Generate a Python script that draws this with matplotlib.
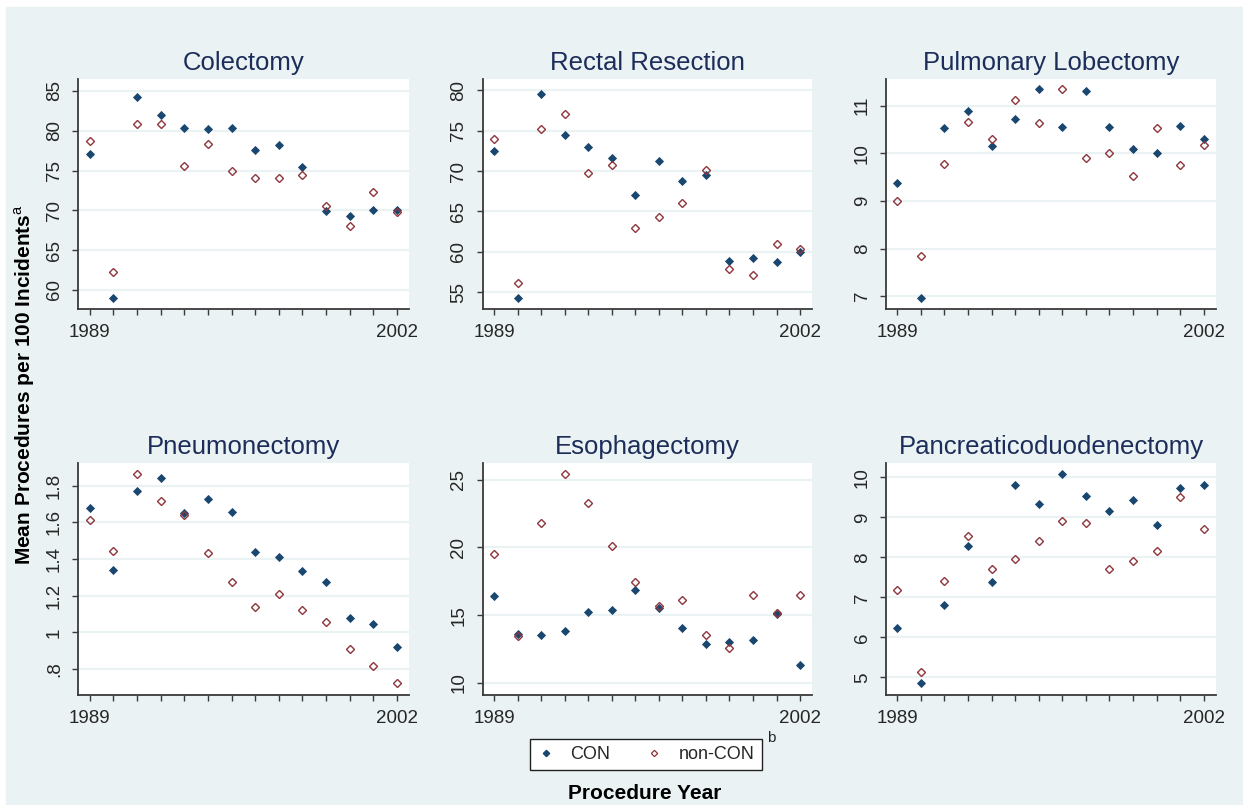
# CON vs non-CON: mean procedures per 100 incidents, six procedures
import matplotlib.pyplot as plt
from matplotlib.lines import Line2D
from matplotlib.patches import Rectangle

plt.rcParams["font.family"] = ["Liberation Sans", "DejaVu Sans"]
plt.rcParams["mathtext.fontset"] = "custom"
plt.rcParams["mathtext.rm"] = "Liberation Sans"

# --- data ---
years = list(range(1989, 2003))

titles = ["Colectomy", "Rectal Resection", "Pulmonary Lobectomy",
          "Pneumonectomy", "Esophagectomy", "Pancreaticoduodenectomy"]

colectomy_con = [77.1, 59.0, 84.2, 82.0, 80.4, 80.2, 80.4, 77.6, 78.2, 75.5, 69.9, 69.3, 70.1, 70.1]
colectomy_non = [78.75, 62.25, 80.9, 80.9, 75.6, 78.3, 74.9, 74.1, 74.0, 74.4, 70.5, 68.0, 72.3, 69.75]

rectal_con = [72.5, 54.3, 79.5, 74.4, 72.95, 71.65, 67.05, 71.2, 68.8, 69.55, 58.9, 59.2, 58.75, 59.95]
rectal_non = [74.0, 56.1, 75.2, 77.1, 69.7, 70.7, 62.9, 64.35, 66.0, 70.15, 57.9, 57.15, 61.0, 60.3]

lobectomy_con = [9.37, 6.97, 10.53, 10.88, 10.16, 10.71, 11.34, 10.56, 11.31, 10.56, 10.09, 10.0, 10.58, 10.29]
lobectomy_non = [9.0, 7.84, 9.78, 10.66, 10.31, 11.11, 10.64, 11.34, 9.9, 10.0, 9.53, 10.53, 9.75, 10.18]

pneumo_con = [1.68, 1.34, 1.771, 1.844, 1.653, 1.725, 1.654, 1.438, 1.413, 1.333, 1.275, 1.078, 1.045, 0.922]
pneumo_non = [1.615, 1.445, 1.864, 1.718, 1.64, 1.433, 1.275, 1.138, 1.209, 1.124, 1.058, 0.909, 0.818, 0.725]

esoph_con = [16.39, 13.64, 13.57, 13.84, 15.24, 15.41, 16.84, 15.56, 14.08, 12.85, 13.05, 13.2, 15.07, 11.35]
esoph_non = [19.49, 13.47, 21.78, 25.42, 23.3, 20.11, 17.45, 15.68, 16.12, 13.57, 12.58, 16.47, 15.16, 16.47]

pancreas_con = [6.24, 4.87, 6.82, 8.28, 7.38, 9.82, 9.33, 10.08, 9.54, 9.15, 9.43, 8.82, 9.73, 9.82]
pancreas_non = [7.18, 5.13, 7.42, 8.53, 7.72, 7.96, 8.41, 8.92, 8.85, 7.72, 7.9, 8.17, 9.51, 8.71]

con_series = [colectomy_con, rectal_con, lobectomy_con, pneumo_con, esoph_con, pancreas_con]
non_series = [colectomy_non, rectal_non, lobectomy_non, pneumo_non, esoph_non, pancreas_non]

# y tick values / labels per panel
yticks = [
    [60, 65, 70, 75, 80, 85],
    [55, 60, 65, 70, 75, 80],
    [7, 8, 9, 10, 11],
    [0.8, 1.0, 1.2, 1.4, 1.6, 1.8],
    [10, 15, 20, 25],
    [5, 6, 7, 8, 9, 10],
]
ytick_labels = [
    ["60", "65", "70", "75", "80", "85"],
    ["55", "60", "65", "70", "75", "80"],
    ["7", "8", "9", "10", "11"],
    [".8", "1", "1.2", "1.4", "1.6", "1.8"],
    ["10", "15", "20", "25"],
    ["5", "6", "7", "8", "9", "10"],
]
ylims = [(57.6, 86.5), (52.9, 81.4), (6.73, 11.56),
         (0.658, 1.924), (9.11, 26.23), (4.56, 10.36)]

# --- colours ---
bg = "#eaf2f3"
navy = "#1a476f"
maroon = "#90353b"
title_col = "#1c2d5a"
txt = "#262626"

W, H = 1243, 805
fig = plt.figure(figsize=(W / 100, H / 100), dpi=100, facecolor="white")
# light bluish-grey graph region (small white strip left/top)
fig.patches.append(Rectangle((6 / W, 0), 1 - 6 / W, 1 - 7 / H,
                             transform=fig.transFigure, color=bg, zorder=-10))

# axes boxes in pixels: left, top, width, height
lefts = [78.3, 482.7, 886.0]
tops = [79.0, 463.0]
heights = [230.0, 232.0]
widths = [331.0, 329.6, 330.0]

for i in range(6):
    r, c = divmod(i, 3)
    ax = fig.add_axes([lefts[c] / W, 1 - (tops[r] + heights[r]) / H,
                       widths[c] / W, heights[r] / H])
    ax.set_facecolor("white")

    ax.plot(years, con_series[i], linestyle="none", marker="D", markersize=4.3,
            color=navy, markeredgewidth=0.6, zorder=3)
    ax.plot(years, non_series[i], linestyle="none", marker="D", markersize=4.3,
            markerfacecolor="none", markeredgecolor=maroon, markeredgewidth=1.0, zorder=4)

    ax.set_xlim(1988.52, 2002.52)
    ax.set_ylim(*ylims[i])
    ax.set_xticks(years)
    ax.set_xticklabels([str(y) if y in (1989, 2002) else "" for y in years])
    ax.set_yticks(yticks[i])
    ax.set_yticklabels(ytick_labels[i], rotation=90, va="center")

    ax.yaxis.grid(True, color=bg, linewidth=1.6)
    ax.set_axisbelow(True)
    for s in ["top", "right"]:
        ax.spines[s].set_visible(False)
    for s in ["left", "bottom"]:
        ax.spines[s].set_color("#3a3a3a")
        ax.spines[s].set_linewidth(1.3)

    ax.tick_params(direction="out", length=4.5, width=1.0, color="#3a3a3a",
                   labelsize=13.5, labelcolor=txt, pad=6.5)
    ax.set_title(titles[i], fontsize=18.5, color=title_col, pad=6.5)

# axis titles
fig.text(25 / W, 1 - 385 / H, r"Mean Procedures per 100 Incidents$^{\mathrm{a}}$",
         rotation=90, ha="center", va="center", fontsize=15, fontweight="bold", color="black")
fig.text(645 / W, 1 - 793 / H, "Procedure Year", ha="center", va="center",
         fontsize=15, fontweight="bold", color="black")

# legend
handles = [
    Line2D([], [], linestyle="none", marker="D", markersize=3.2, color=navy),
    Line2D([], [], linestyle="none", marker="D", markersize=3.2,
           markerfacecolor="none", markeredgecolor=maroon, markeredgewidth=0.9),
]
leg = fig.legend(handles, ["CON", "non-CON"], loc="center", ncol=2,
                 bbox_to_anchor=(646 / W, 1 - 754.5 / H), fontsize=13,
                 frameon=True, fancybox=False, edgecolor="#222222",
                 facecolor="white", framealpha=1.0,
                 handlelength=0.9, handletextpad=0.9, columnspacing=2.0,
                 borderpad=0.4, borderaxespad=0.0)
leg.get_frame().set_linewidth(1.0)
for t in leg.get_texts():
    t.set_color(txt)
fig.text(771 / W, 1 - 738 / H, "b", ha="center", va="center", fontsize=11, color=txt)

fig.savefig("out.png", dpi=100)
